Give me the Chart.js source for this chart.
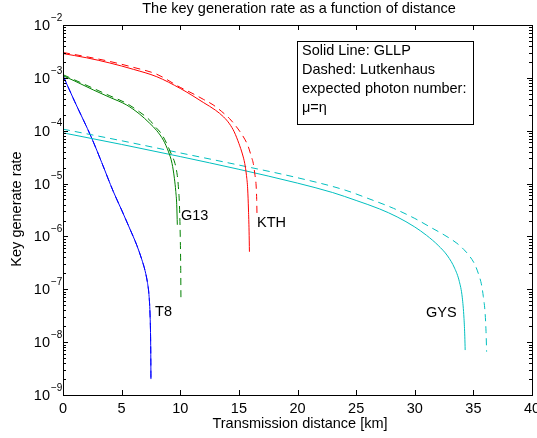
<!DOCTYPE html>
<html>
<head>
<meta charset="utf-8">
<script src="https://cdn.jsdelivr.net/npm/chart.js@4"></script>
<style>
  html, body { margin: 0; padding: 0; background: #fff; }
  #wrap { width: 537px; height: 438px; position: relative; }
</style>
</head>
<body>
<div id="wrap"><canvas id="keyChart" width="537" height="438"></canvas></div>
<script>
// values (distance in km, key rate)
const kthSolidX = [0, 2, 4, 6, 8, 10, 11, 12, 13, 13.7, 14.2, 14.6, 15.0, 15.3, 15.5, 15.65, 15.75, 15.82, 15.87, 15.9];
const kthSolidY = [2.88e-3, 2.40e-3, 1.91e-3, 1.45e-3, 1.05e-3, 6.31e-4, 4.68e-4, 3.39e-4, 2.45e-4, 1.82e-4, 1.35e-4, 9.55e-5, 5.75e-5, 3.63e-5, 2.40e-5, 1.41e-5, 7.94e-6, 3.16e-6, 1.26e-6, 5.13e-7];
const kthDashX = [0, 2, 4, 6, 8, 10, 11, 12, 12.8, 13.5, 14.2, 14.7, 15.1, 15.5, 15.8, 16.05, 16.23, 16.38, 16.46, 16.52, 16.55];
const kthDashY = [3.02e-3, 2.51e-3, 2.04e-3, 1.58e-3, 1.17e-3, 6.61e-4, 5.13e-4, 3.89e-4, 3.09e-4, 2.34e-4, 1.70e-4, 1.26e-4, 9.55e-5, 6.92e-5, 5.01e-5, 3.31e-5, 2.40e-5, 1.41e-5, 1.0e-5, 5.01e-6, 2.24e-6];

const g13SolidX = [0, 1, 2.6, 4, 5.4, 6.5, 7.4, 8.0, 8.56, 9.0, 9.3, 9.5, 9.62, 9.7, 9.75];
const g13SolidY = [1.10e-3, 8.71e-4, 5.89e-4, 4.27e-4, 3.09e-4, 2.09e-4, 1.38e-4, 1.0e-4, 6.61e-5, 3.98e-5, 2.40e-5, 1.26e-5, 7.08e-6, 3.98e-6, 1.66e-6];
const g13DashX = [0, 1, 2.6, 4, 5.4, 6.5, 7.4, 7.85, 8.4, 8.84, 9.25, 9.55, 9.75, 9.84, 9.93, 10.0, 10.04, 10.06];
const g13DashY = [1.15e-3, 9.12e-4, 6.31e-4, 4.57e-4, 3.31e-4, 2.29e-4, 1.58e-4, 1.20e-4, 8.71e-5, 5.75e-5, 3.55e-5, 2.40e-5, 1.41e-5, 8.71e-6, 3.98e-6, 1.0e-6, 2.51e-7, 6.31e-8];

const t8X = [0, 1, 2.45, 3.3, 4.29, 5.0, 5.71, 6.3, 6.71, 7.0, 7.2, 7.33, 7.42, 7.47, 7.49, 7.5];
const t8Y = [1.10e-3, 3.55e-4, 7.24e-5, 2.51e-5, 7.08e-6, 3.16e-6, 1.38e-6, 6.76e-7, 3.72e-7, 2.24e-7, 1.35e-7, 7.94e-8, 3.55e-8, 1.26e-8, 5.01e-9, 2.0e-9];

const gysSolidX = [0, 5, 10, 15, 20, 23, 25, 27, 28.5, 30, 31, 32, 32.8, 33.4, 33.8, 34.05, 34.2, 34.27, 34.3];
const gysSolidY = [9.12e-5, 5.50e-5, 3.24e-5, 1.86e-5, 1.02e-5, 6.76e-6, 4.79e-6, 3.31e-6, 2.34e-6, 1.51e-6, 1.05e-6, 6.76e-7, 4.27e-7, 2.51e-7, 1.41e-7, 7.08e-8, 2.82e-8, 1.26e-8, 7.08e-9];
const gysDashX = [0, 5, 10, 15, 20, 24, 26, 28.2, 30, 31.3, 32.5, 33.6, 34.2, 34.7, 35.1, 35.42, 35.7, 35.85, 36.0, 36.08, 36.13];
const gysDashY = [1.07e-4, 6.46e-5, 3.80e-5, 2.24e-5, 1.29e-5, 7.59e-6, 5.25e-6, 3.39e-6, 2.19e-6, 1.51e-6, 1.07e-6, 7.41e-7, 5.62e-7, 4.17e-7, 3.02e-7, 2.0e-7, 1.20e-7, 7.24e-8, 3.55e-8, 1.58e-8, 6.61e-9];

const xTicks = [0, 5, 10, 15, 20, 25, 30, 35, 40];
const yExponents = [-2, -3, -4, -5, -6, -7, -8, -9];

const curveLabels = [
  { text: 'G13', x: 10.06, y: 2.45e-6 },
  { text: 'KTH', x: 16.55, y: 1.82e-6 },
  { text: 'T8', x: 7.85, y: 3.72e-8 },
  { text: 'GYS', x: 30.96, y: 3.55e-8 }
];
const noteLines = ['Solid Line: GLLP', 'Dashed: Lutkenhaus', 'expected photon number:', 'μ=η'];

function pts(xs, ys) {
  return xs.map((x, i) => ({ x: x, y: ys[i] }));
}

function line(xs, ys, color, dashed) {
  return {
    data: pts(xs, ys),
    borderColor: color,
    borderWidth: 1,
    borderDash: dashed ? [7, 5] : [],
    pointRadius: 0,
    fill: false,
    cubicInterpolationMode: 'monotone'
  };
}

const FONT = '"Liberation Sans", Arial, sans-serif';
const FS = '14.5px ';

const axesPlugin = {
  id: 'matlabAxes',
  afterDatasetsDraw(chart) {
    const ctx = chart.ctx;
    const a = chart.chartArea;
    const xs = chart.scales.x, ys = chart.scales.y;
    ctx.save();

    // curve labels
    ctx.fillStyle = '#000';
    ctx.font = FS + FONT;
    ctx.textBaseline = 'middle';
    ctx.textAlign = 'left';
    curveLabels.forEach(l => {
      ctx.fillText(l.text, xs.getPixelForValue(l.x), ys.getPixelForValue(l.y));
    });

    // note box
    ctx.fillStyle = '#fff';
    ctx.fillRect(297.5, 41.5, 176, 83);
    ctx.strokeStyle = '#000';
    ctx.lineWidth = 1;
    ctx.strokeRect(297.5, 41.5, 176, 83);
    ctx.fillStyle = '#000';
    noteLines.forEach((t, i) => ctx.fillText(t, 302, 51 + i * 19));

    // box
    ctx.strokeRect(a.left + 0.5, a.top + 0.5, a.right - a.left, a.bottom - a.top);

    // ticks
    ctx.beginPath();
    xTicks.forEach(v => {
      const px = Math.round(xs.getPixelForValue(v)) + 0.5;
      ctx.moveTo(px, a.bottom); ctx.lineTo(px, a.bottom - 5);
      ctx.moveTo(px, a.top); ctx.lineTo(px, a.top + 5);
    });
    yExponents.forEach(e => {
      for (let m = 1; m <= 9; m++) {
        const v = m * Math.pow(10, e);
        if (v > 1e-2 * 1.0001) continue;
        const py = Math.round(ys.getPixelForValue(v)) + 0.5;
        const len = m === 1 ? 5 : 3;
        ctx.moveTo(a.left, py); ctx.lineTo(a.left + len, py);
        ctx.moveTo(a.right, py); ctx.lineTo(a.right - len, py);
      }
    });
    ctx.stroke();

    // x tick labels
    ctx.font = FS + FONT;
    ctx.textAlign = 'center';
    xTicks.forEach(v => ctx.fillText(String(v), xs.getPixelForValue(v), a.bottom + 14));

    // y tick labels 10^e
    yExponents.forEach(e => {
      const py = ys.getPixelForValue(Math.pow(10, e));
      ctx.font = FS + FONT;
      ctx.textAlign = 'right';
      ctx.fillText('10', 50, py + 1);
      ctx.font = '10px ' + FONT;
      ctx.textAlign = 'left';
      ctx.fillText('\u2212' + Math.abs(e), 51, py - 7);
    });

    // titles
    ctx.font = FS + FONT;
    ctx.textAlign = 'center';
    ctx.fillText('The key generation rate as a function of distance', 299, 9);
    ctx.fillText('Transmission distance [km]', 300, 424);
    ctx.translate(17, 209);
    ctx.rotate(-Math.PI / 2);
    ctx.fillText('Key generate rate', 0, 0);
    ctx.restore();
  }
};

new Chart(document.getElementById('keyChart').getContext('2d'), {
  type: 'line',
  data: {
    datasets: [
      line(kthSolidX, kthSolidY, '#ff0000', false),
      line(kthDashX, kthDashY, '#ff0000', true),
      line(g13SolidX, g13SolidY, '#008000', false),
      line(g13DashX, g13DashY, '#008000', true),
      line(gysSolidX, gysSolidY, '#00bfbf', false),
      line(gysDashX, gysDashY, '#00bfbf', true),
      line(t8X, t8Y, '#0000ff', false),
      line(t8X, t8Y, '#0000ff', true)
    ]
  },
  options: {
    responsive: false,
    animation: false,
    layout: { padding: { left: 63, right: 5, top: 25, bottom: 43 } },
    plugins: { legend: { display: false }, tooltip: { enabled: false } },
    scales: {
      x: {
        type: 'linear', min: 0, max: 40,
        ticks: { display: false }, grid: { display: false }, border: { display: false },
        afterFit: s => { s.height = 0; }
      },
      y: {
        type: 'logarithmic', min: 1e-9, max: 1e-2,
        ticks: { display: false }, grid: { display: false }, border: { display: false },
        afterFit: s => { s.width = 0; }
      }
    }
  },
  plugins: [axesPlugin]
});
</script>
</body>
</html>
